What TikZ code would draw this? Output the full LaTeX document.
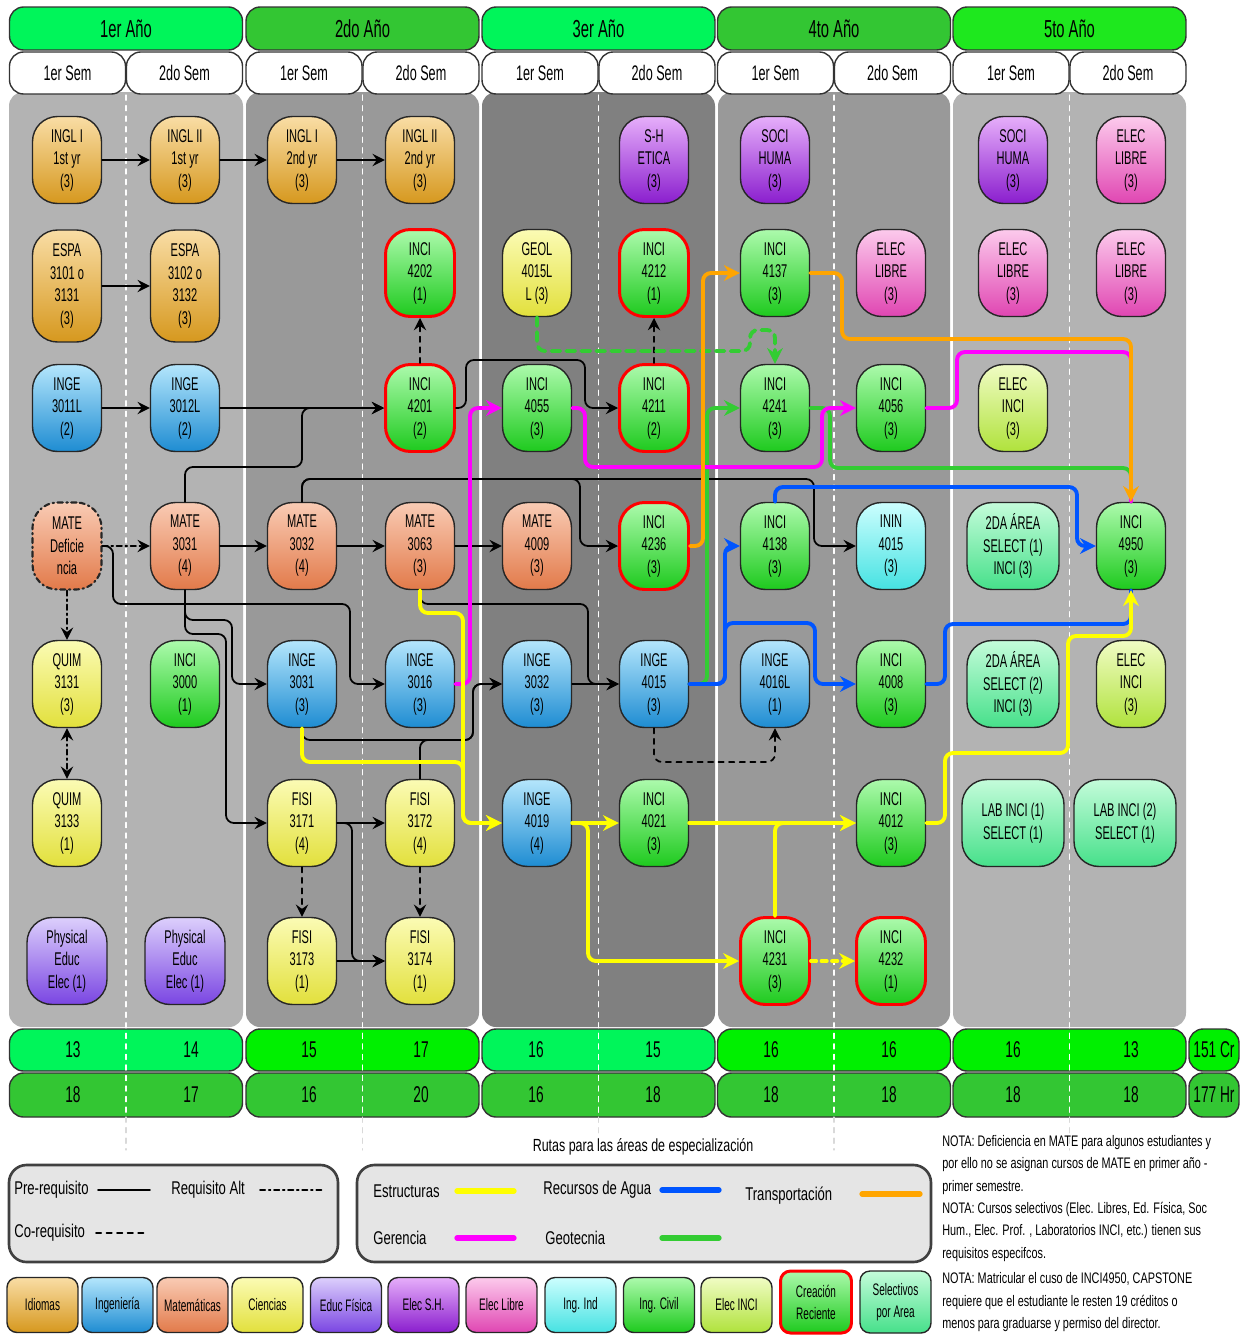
\documentclass[tikz,border=0pt]{standalone}
\usepackage{fontspec}
\setmainfont{Liberation Sans}[FakeStretch=0.6]
\newfontfamily\legfont{Liberation Sans}[FakeStretch=0.71]
\usetikzlibrary{arrows.meta}

\definecolor{idiomaA}{HTML}{F9DDA5} \definecolor{idiomaB}{HTML}{D6981E}
\definecolor{ingeA}{HTML}{B4E6FC}   \definecolor{ingeB}{HTML}{1E8CD2}
\definecolor{mateA}{HTML}{F9CBB4}   \definecolor{mateB}{HTML}{E27A4A}
\definecolor{cienA}{HTML}{FBFBB4}   \definecolor{cienB}{HTML}{E2E03C}
\definecolor{educA}{HTML}{DCCFFC}   \definecolor{educB}{HTML}{7A45E2}
\definecolor{socioA}{HTML}{E6AEFA}  \definecolor{socioB}{HTML}{8A1ECE}
\definecolor{libreA}{HTML}{FCCAEC}  \definecolor{libreB}{HTML}{E046B2}
\definecolor{ininA}{HTML}{CCFEFE}   \definecolor{ininB}{HTML}{46E2E2}
\definecolor{civilA}{HTML}{ACFAAC}  \definecolor{civilB}{HTML}{1ECA1E}
\definecolor{elecA}{HTML}{F0FCC4}   \definecolor{elecB}{HTML}{B0E23C}
\definecolor{selecA}{HTML}{C4FCDA}  \definecolor{selecB}{HTML}{46E08A}
\definecolor{panelA}{HTML}{B3B3B3}  \definecolor{panelB}{HTML}{999999}
\definecolor{panelC}{HTML}{808080}
\definecolor{verdeA}{HTML}{00F55A}  \definecolor{verdeB}{HTML}{33C633}
\definecolor{verdeC}{HTML}{1EE81E}  \definecolor{verdeD}{HTML}{00F000}
\definecolor{rutaAm}{HTML}{FFFF00}  \definecolor{rutaAz}{HTML}{0055FF}
\definecolor{rutaNa}{HTML}{FFA500}  \definecolor{rutaMa}{HTML}{FF00FF}
\definecolor{rutaVe}{HTML}{33CC33}

\newcommand\crsfont{\fontsize{10.5}{12.8}\selectfont}
\newcommand\aniofont{\fontsize{14}{16}\selectfont}
\newcommand\semfont{\fontsize{12}{14}\selectfont}
\newcommand\totfont{\fontsize{13}{15}\selectfont}
\newcommand\cajafont{\fontsize{9.5}{12.5}\selectfont}
\newcommand\legtext{\legfont\fontsize{10.5}{12.5}\selectfont}
\newcommand\notatext{\legfont\fontsize{8.7}{12.7}\selectfont}

\tikzset{
  curso/.style={rectangle, rounded corners=0.5cm, draw=black!85, line width=0.8pt,
    minimum width=1.38cm, minimum height=1.74cm, inner sep=1pt, align=center, font=\crsfont},
  idioma/.style={curso, top color=idiomaA, bottom color=idiomaB},
  inge/.style={curso, top color=ingeA, bottom color=ingeB},
  mate/.style={curso, top color=mateA, bottom color=mateB},
  ciencia/.style={curso, top color=cienA, bottom color=cienB},
  educ/.style={curso, top color=educA, bottom color=educB},
  socio/.style={curso, top color=socioA, bottom color=socioB},
  libre/.style={curso, top color=libreA, bottom color=libreB},
  inin/.style={curso, top color=ininA, bottom color=ininB},
  civil/.style={curso, top color=civilA, bottom color=civilB},
  elecinci/.style={curso, top color=elecA, bottom color=elecB},
  selec/.style={curso, top color=selecA, bottom color=selecB},
  nuevo/.style={civil, draw=red, line width=1.7pt},
  caja/.style={minimum width=1.42cm, minimum height=1.1cm, rounded corners=0.2cm, font=\cajafont},
  anio/.style={rectangle, rounded corners=8pt, draw=black!80, line width=0.8pt,
    minimum width=4.66cm, minimum height=0.86cm, font=\aniofont},
  sem/.style={rectangle, rounded corners=8pt, draw=black!80, fill=white, line width=0.8pt,
    minimum width=2.32cm, minimum height=0.84cm, font=\semfont},
  totcaja/.style={rounded corners=8pt, draw=black!80, line width=0.8pt},
  tot/.style={font=\totfont, inner sep=0pt},
  leyenda/.style={rounded corners=10pt, draw=black!75, fill=black!10, line width=1.5pt},
  leg/.style={font=\legtext, inner sep=0pt},
  prereq/.style={->, black, line width=1pt, rounded corners=4.5pt},
  coreq/.style={prereq, dashed},
  altreq/.style={prereq, dashdotted},
  ruta/.style={line width=2.2pt, rounded corners=4.5pt, -{Stealth[length=9pt,width=9pt,inset=3pt]}},
  estr/.style={ruta, draw=rutaAm, color=rutaAm},
  agua/.style={ruta, draw=rutaAz, color=rutaAz},
  trans/.style={ruta, draw=rutaNa, color=rutaNa},
  ger/.style={ruta, draw=rutaMa, color=rutaMa},
  geo/.style={ruta, draw=rutaVe, color=rutaVe}
}

\begin{document}
\begin{tikzpicture}[x=0.02cm, y=-0.02cm, line join=round, line cap=round,
    >={Stealth[length=7pt,width=7pt,inset=2.5pt]}]
  \useasboundingbox (0,0) rectangle (1241,1336);
  \def\cA{67} \def\cB{185} \def\cC{302} \def\cD{420} \def\cE{537}
  \def\cF{654} \def\cG{775} \def\cH{891} \def\cI{1013} \def\cJ{1131} % columnas
  \def\rA{160} \def\rB{273} \def\rC{408} \def\rD{546} \def\rE{684} \def\rF{823} \def\rG{961} % filas

  % fondo por año
  \foreach \xl/\xr/\col in {9/243/panelA, 246/479/panelB, 482/715/panelC, 718/950/panelB, 953/1186/panelA}
    \fill[\col, rounded corners=8pt] (\xl,92) rectangle (\xr,1027);

  % encabezados
  \foreach \i/\cx/\col/\lab in {1/126/verdeA/1er Año, 2/362.5/verdeB/2do Año, 3/598.5/verdeA/3er Año,
      4/834/verdeB/4to Año, 5/1069.5/verdeC/5to Año} {
    \node[anio, fill=\col] (anio\i) at (\cx,28.5) {\lab};
    \node[sem] (semA\i) at (\cx-58.5,73) {1er Sem};
    \node[sem] (semB\i) at (\cx+58.5,73) {2do Sem};
  }

  % totales
  \foreach \cx/\col/\px/\qx/\na/\nb/\ha/\hb in {126/verdeA/73/191/13/14/18/17, 362.5/verdeD/309/421/15/17/16/20,
      598.5/verdeA/536/653/16/15/16/18, 834/verdeD/771/889/16/16/18/18, 1069.5/verdeD/1013/1131/16/13/18/18} {
    \draw[totcaja, fill=\col] (\cx-116.5,1029) rectangle (\cx+116.5,1071);
    \draw[totcaja, fill=verdeB] (\cx-116.5,1073) rectangle (\cx+116.5,1117);
    \node[tot] (cr\px) at (\px,1050) {\na};
    \node[tot] (cr\qx) at (\qx,1050) {\nb};
    \node[tot] (hr\px) at (\px,1095) {\ha};
    \node[tot] (hr\qx) at (\qx,1095) {\hb};
  }
  \draw[totcaja, fill=verdeD] (1189,1029) rectangle (1239,1071);
  \draw[totcaja, fill=verdeB] (1189,1073) rectangle (1239,1117);
  \node[tot] (crtotal) at (1214,1050) {151 Cr};
  \node[tot] (hrtotal) at (1214,1095) {177 Hr};

  \foreach \x in {126,362.5,598.5,834,1069.5} {
    \draw[white, dashed, line width=0.6pt] (\x,95) -- (\x,1117);
    \draw[black!15, dashed, line width=0.6pt] (\x,1117) -- (\x,1150);
  }

  % cursos
  \node[idioma] (ingl1) at (\cA,\rA) {INGL I\\1st yr\\(3)};
  \node[idioma] (ingl2) at (\cB,\rA) {INGL II\\1st yr\\(3)};
  \node[idioma] (ingl3) at (\cC,\rA) {INGL I\\2nd yr\\(3)};
  \node[idioma] (ingl4) at (\cD,\rA) {INGL II\\2nd yr\\(3)};
  \node[socio] (sh) at (\cF,\rA) {S-H\\ETICA\\(3)};
  \node[socio] (soci1) at (\cG,\rA) {SOCI\\HUMA\\(3)};
  \node[socio] (soci2) at (\cI,\rA) {SOCI\\HUMA\\(3)};
  \node[libre] (libre1) at (\cJ,\rA) {ELEC\\LIBRE\\(3)};

  \node[idioma, minimum height=2.24cm] (espa1) at (\cA,286) {ESPA\\3101 o\\3131\\(3)};
  \node[idioma, minimum height=2.24cm] (espa2) at (\cB,286) {ESPA\\3102 o\\3132\\(3)};
  \node[nuevo] (inci4202) at (\cD,\rB) {INCI\\4202\\(1)};
  \node[ciencia] (geol) at (\cE,\rB) {GEOL\\4015L\\L (3)};
  \node[nuevo] (inci4212) at (\cF,\rB) {INCI\\4212\\(1)};
  \node[civil] (inci4137) at (\cG,\rB) {INCI\\4137\\(3)};
  \node[libre] (libre2) at (\cH,\rB) {ELEC\\LIBRE\\(3)};
  \node[libre] (libre3) at (\cI,\rB) {ELEC\\LIBRE\\(3)};
  \node[libre] (libre4) at (\cJ,\rB) {ELEC\\LIBRE\\(3)};

  \node[inge] (inge3011) at (\cA,\rC) {INGE\\3011L\\(2)};
  \node[inge] (inge3012) at (\cB,\rC) {INGE\\3012L\\(2)};
  \node[nuevo] (inci4201) at (\cD,\rC) {INCI\\4201\\(2)};
  \node[civil] (inci4055) at (\cE,\rC) {INCI\\4055\\(3)};
  \node[nuevo] (inci4211) at (\cF,\rC) {INCI\\4211\\(2)};
  \node[civil] (inci4241) at (\cG,\rC) {INCI\\4241\\(3)};
  \node[civil] (inci4056) at (\cH,\rC) {INCI\\4056\\(3)};
  \node[elecinci] (elec1) at (\cI,\rC) {ELEC\\INCI\\(3)};

  \node[mate, dashdotted, line width=1.2pt] (matedef) at (\cA,\rD) {MATE\\Deficie\\ncia};
  \node[mate] (mate3031) at (\cB,\rD) {MATE\\3031\\(4)};
  \node[mate] (mate3032) at (\cC,\rD) {MATE\\3032\\(4)};
  \node[mate] (mate3063) at (\cD,\rD) {MATE\\3063\\(3)};
  \node[mate] (mate4009) at (\cE,\rD) {MATE\\4009\\(3)};
  \node[nuevo] (inci4236) at (\cF,\rD) {INCI\\4236\\(3)};
  \node[civil] (inci4138) at (\cG,\rD) {INCI\\4138\\(3)};
  \node[inin] (inin4015) at (\cH,\rD) {ININ\\4015\\(3)};
  \node[selec, minimum width=1.84cm] (area1) at (\cI,\rD) {2DA ÁREA\\SELECT (1)\\INCI (3)};
  \node[civil] (inci4950) at (\cJ,\rD) {INCI\\4950\\(3)};

  \node[ciencia] (quim3131) at (\cA,\rE) {QUIM\\3131\\(3)};
  \node[civil] (inci3000) at (\cB,\rE) {INCI\\3000\\(1)};
  \node[inge] (inge3031) at (\cC,\rE) {INGE\\3031\\(3)};
  \node[inge] (inge3016) at (\cD,\rE) {INGE\\3016\\(3)};
  \node[inge] (inge3032) at (\cE,\rE) {INGE\\3032\\(3)};
  \node[inge] (inge4015) at (\cF,\rE) {INGE\\4015\\(3)};
  \node[inge] (inge4016) at (\cG,\rE) {INGE\\4016L\\(1)};
  \node[civil] (inci4008) at (\cH,\rE) {INCI\\4008\\(3)};
  \node[selec, minimum width=1.84cm] (area2) at (\cI,\rE) {2DA ÁREA\\SELECT (2)\\INCI (3)};
  \node[elecinci] (elec2) at (\cJ,\rE) {ELEC\\INCI\\(3)};

  \node[ciencia] (quim3133) at (\cA,\rF) {QUIM\\3133\\(1)};
  \node[ciencia] (fisi3171) at (\cC,\rF) {FISI\\3171\\(4)};
  \node[ciencia] (fisi3172) at (\cD,\rF) {FISI\\3172\\(4)};
  \node[inge] (inge4019) at (\cE,\rF) {INGE\\4019\\(4)};
  \node[civil] (inci4021) at (\cF,\rF) {INCI\\4021\\(3)};
  \node[civil] (inci4012) at (\cH,\rF) {INCI\\4012\\(3)};
  \node[selec, minimum width=2.04cm] (lab1) at (\cI,\rF) {LAB INCI (1)\\SELECT (1)};
  \node[selec, minimum width=2.04cm] (lab2) at (1125,\rF) {LAB INCI (2)\\SELECT (1)};

  \node[educ, minimum width=1.6cm] (educ1) at (\cA,\rG) {Physical\\Educ\\Elec (1)};
  \node[educ, minimum width=1.6cm] (educ2) at (\cB,\rG) {Physical\\Educ\\Elec (1)};
  \node[ciencia] (fisi3173) at (\cC,\rG) {FISI\\3173\\(1)};
  \node[ciencia] (fisi3174) at (\cD,\rG) {FISI\\3174\\(1)};
  \node[nuevo] (inci4231) at (\cG,\rG) {INCI\\4231\\(3)};
  \node[nuevo] (inci4232) at (\cH,\rG) {INCI\\4232\\(1)};

  % requisitos
  \draw[prereq] (ingl1) -- (ingl2);
  \draw[prereq] (ingl2) -- (ingl3);
  \draw[prereq] (ingl3) -- (ingl4);
  \draw[prereq] (espa1) -- (espa2);
  \draw[prereq] (inge3011) -- (inge3012);
  \draw[prereq] (inge3012) -- (inci4201);
  \draw[prereq] (mate3031.north) |- (302,467) |- (inci4201.west);
  \draw[prereq] (inci4201.east) -| (466,360) -| (585,\rC) -- (inci4211.west);
  \draw[coreq] (inci4201) -- (inci4202);
  \draw[coreq] (inci4211) -- (inci4212);
  \draw[altreq] (matedef) -- (mate3031);
  \draw[altreq] (matedef) -- (quim3131);
  \draw[altreq, <->] (quim3131) -- (quim3133);
  \draw[prereq] (mate3031) -- (mate3032);
  \draw[prereq] (mate3032) -- (mate3063);
  \draw[prereq] (mate3063) -- (mate4009);
  \draw[prereq] (mate3032.north) |- (580,479) |- (inci4236.west);
  \draw[prereq] (mate3032.north) |- (814,479) |- (inin4015.west);
  \draw[prereq] (matedef.east) -| (113,604) -| (350,\rE) -- (inge3016.west);
  \draw[prereq] (mate3063.south) |- (588,604) |- (inge4015.west);
  \draw[prereq] (mate3031.south) |- (232,620) |- (inge3031.west);
  \draw[prereq] (mate3031.south) |- (226,634) |- (fisi3171.west);
  \draw[prereq] (inge3031.south) |- (473,740) |- (inge3032.west);
  \draw[prereq] (fisi3172.north) |- (473,740) |- (inge3032.west);
  \draw[prereq] (inge3032) -- (inge4015);
  \draw[prereq] (fisi3171) -- (fisi3172);
  \draw[prereq] (fisi3171.east) -| (352,\rG) -- (fisi3174.west);
  \draw[prereq] (fisi3173) -- (fisi3174);
  \draw[coreq] (fisi3171) -- (fisi3173);
  \draw[coreq] (fisi3172) -- (fisi3174);
  \draw[coreq] (inge4015.south) |- (700,762) -| (inge4016.south);

  % rutas de especialidad
  \draw[geo] (inge4015.east) -| (707,\rC) -- (inci4241.west);
  \draw[geo, -] (inci4241.east) -| (830,468) -| (inci4950.north);
  \draw[geo, dash pattern=on 5pt off 3.5pt] (geol.south) |- (750,351) |- (775,330) -- (inci4241.north);
  \draw[ger] (inge3016.east) -| (470,\rC) -- (inci4055.west);
  \draw[ger] (inci4055.east) -| (585,467) -| (822,\rC) -- (inci4056.west);
  \draw[ger, -] (inci4056.east) -| (957,352) -| (inci4950.north);
  \draw[agua] (inge4015.east) -| (725,\rD) -- (inci4138.west);
  \draw[agua] (inge4015.east) -| (725,623) -| (815,\rE) -- (inci4008.west);
  \draw[agua] (inci4138.north) |- (1077,487) |- (inci4950.west);
  \draw[agua, -] (inci4008.east) -| (945,624) -| (inci4950.south);
  \draw[trans] (inci4236.east) -| (703,\rB) -- (inci4137.west);
  \draw[trans] (inci4137.east) -| (842,339) -| (inci4950.north);
  \draw[estr] (mate3063.south) |- (463,613) |- (inge4019.west);
  \draw[estr] (inge3031.south) |- (463,762) |- (inge4019.west);
  \draw[estr] (inge4019) -- (inci4021);
  \draw[estr] (inge4019.east) -| (588,\rG) -- (inci4231.west);
  \draw[estr] (inci4021) -- (inci4012);
  \draw[estr] (inci4231.north) |- (inci4012.west);
  \draw[estr, dashed] (inci4231) -- (inci4232);
  \draw[estr] (inci4012.east) -| (945,753) -| (1068,636) -| (inci4950.south);

  % leyenda
  \node[leg, font=\legfont\fontsize{10}{12}\selectfont] (titulo) at (643,1147) {Rutas para las áreas de especialización};
  \draw[leyenda] (9,1165) rectangle (338,1262);
  \node[leg, anchor=west] (lpre) at (14,1190) {Pre-requisito};
  \draw[line width=1pt] (98,1190) -- (150,1190);
  \node[leg, anchor=west] (lalt) at (171,1190) {Requisito Alt};
  \draw[line width=1pt, dashdotted] (260,1190) -- (322,1190);
  \node[leg, anchor=west] (lco) at (14,1233) {Co-requisito};
  \draw[line width=1pt, dashed] (96,1233) -- (148,1233);
  \draw[leyenda] (357,1165) rectangle (931,1262);
  \node[leg, anchor=west] (lestr) at (373,1191) {Estructuras};
  \draw[rutaAm, line width=3pt] (457,1191) -- (514,1191);
  \node[leg, anchor=west] (lagua) at (543,1190) {Recursos de Agua};
  \draw[rutaAz, line width=3pt] (662,1190) -- (719,1190);
  \node[leg, anchor=west] (ltrans) at (745,1196) {Transportación};
  \draw[rutaNa, line width=3pt] (862,1194) -- (920,1194);
  \node[leg, anchor=west] (lger) at (373,1238) {Gerencia};
  \draw[rutaMa, line width=3pt] (457,1238) -- (514,1238);
  \node[leg, anchor=west] (lgeo) at (545,1238) {Geotecnia};
  \draw[rutaVe, line width=3pt] (662,1238) -- (719,1238);

  \foreach \cx/\est/\lab in {42.5/idioma/Idiomas, 117.5/inge/Ingeniería, 192.5/mate/Matemáticas,
      267.5/ciencia/Ciencias, 346/educ/Educ Física, 423.5/socio/Elec S.H., 501.5/libre/Elec Libre,
      580.5/inin/Ing. Ind, 659/civil/Ing. Civil, 736.5/elecinci/Elec INCI}
    \node[\est, caja] (ley\est) at (\cx,1305) {\lab};
  \node[nuevo, caja, minimum height=1.24cm] (leynuevo) at (816,1302) {Creación\\Reciente};
  \node[selec, caja, minimum height=1.24cm] (leyselec) at (895.5,1302) {Selectivos\\por Area};

  \node[font=\notatext, align=left, anchor=north west, inner sep=0pt] (notas) at (942,1135)
    {NOTA: Deficiencia en MATE para algunos estudiantes y\\
     por ello no se asignan cursos de MATE en primer año -\\
     primer semestre.\\
     NOTA: Cursos selectivos (Elec. Libres, Ed. Física, Soc\\
     Hum., Elec. Prof. , Laboratorios INCI, etc.) tienen sus\\
     requisitos especifcos.\\[2pt]
     NOTA: Matricular el cuso de INCI4950, CAPSTONE\\
     requiere que el estudiante le resten 19 créditos o\\
     menos para graduarse y permiso del director.};
\end{tikzpicture}
\end{document}
